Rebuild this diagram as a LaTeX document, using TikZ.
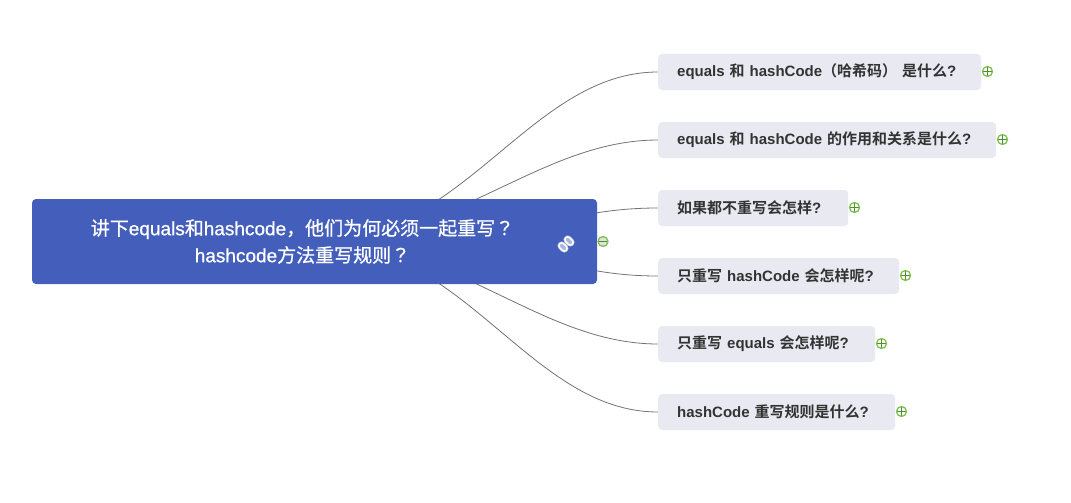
\documentclass[tikz,border=0pt]{standalone}
\usepackage{fontspec}
\setmainfont{Noto Sans CJK SC}[BoldFont={Noto Sans CJK SC Bold}]
\newfontfamily\latfont{Liberation Sans}
\newfontfamily\rootlatfont{Liberation Sans}[FakeBold=0.8]
\newfontfamily\rootcjk{Noto Sans CJK SC}[FakeBold=0.8]
\newfontfamily\rootmark{Noto Sans CJK TC}[FakeBold=0.8]
\newcommand{\lat}[1]{{\latfont #1}}
\newcommand{\rootlat}[1]{{\rootlatfont #1}}
\usetikzlibrary{backgrounds}
\definecolor{rootblue}{HTML}{445FBB}
\definecolor{topicgray}{HTML}{E9E9F2}
\definecolor{inkgray}{HTML}{333333}
\definecolor{foldgreen}{HTML}{7CC34E}
\tikzset{
    rootbox/.style={fill=rootblue, rounded corners=4pt, minimum height=85pt, text width=565pt, inner xsep=0pt, inner ysep=0pt, align=center, text=white, font=\fontsize{19}{23}\selectfont\rootcjk},
    topicbox/.style={fill=topicgray, rounded corners=4pt, anchor=west, minimum height=36pt, inner xsep=19pt, inner ysep=0pt, text=inkgray, font=\fontsize{15}{17}\selectfont\bfseries},
    branch/.style={draw=black!55, line width=0.8pt},
    foldopen/.style={circle, draw=foldgreen, fill=white, line width=1.3pt, minimum size=10pt, inner sep=0pt,
        path picture={\draw[black!30!foldgreen, line width=1pt] (path picture bounding box.west) -- (path picture bounding box.east) (path picture bounding box.north) -- (path picture bounding box.south);}},
    foldshut/.style={circle, draw=foldgreen, fill=black!12, line width=1.3pt, minimum size=10pt, inner sep=0pt,
        path picture={\draw[black!30!foldgreen, line width=1pt] (path picture bounding box.west) -- (path picture bounding box.east);}},
    linkring/.style={draw=white, line width=1.4pt, rounded corners=2.5pt, fill=rootblue!45!white, preaction={draw=rootblue!35!white, line width=2.8pt}}
}
\begin{document}
\begin{tikzpicture}[x=1pt, y=-1pt]
    \useasboundingbox (0,0) rectangle (1071,503);
    \node[rootbox] (root) at (314.5,241.5) {\vspace*{4pt}讲下\rootlat{equals}和\rootlat{hashcode}，他们为何必须一起重写{\rootmark ？}\rule{24pt}{0pt}\\\rootlat{hashcode}方法重写规则{\rootmark ？}\rule{24pt}{0pt}};
    \node[topicbox, text width=285pt] (what) at (658,72) {\lat{equals }和\lat{ hashCode}（哈希码）\lat{ }是什么\lat{?}};
    \node[topicbox, text width=300pt] (relation) at (658,140) {\lat{equals }和\lat{ hashCode }的作用和关系是什么\lat{?}};
    \node[topicbox, text width=152pt] (neither) at (658,208) {如果都不重写会怎样\lat{?}};
    \node[topicbox, text width=203pt] (onlyhash) at (658,276) {只重写\lat{ hashCode }会怎样呢\lat{?}};
    \node[topicbox, text width=179pt] (onlyequals) at (658,344) {只重写\lat{ equals }会怎样呢\lat{?}};
    \node[topicbox, text width=199pt] (rules) at (658,412) {\lat{hashCode }重写规则是什么\lat{?}};
    % curves start behind the root box
    \begin{scope}[on background layer]
        \draw[branch] (root.center) .. controls (465,241) and (530,72) .. (what.west);
        \draw[branch] (root.center) .. controls (455,241) and (540,140) .. (relation.west);
        \draw[branch] (root.center) .. controls (540,241) and (560,208) .. (neither.west);
        \draw[branch] (root.center) .. controls (540,241) and (560,276) .. (onlyhash.west);
        \draw[branch] (root.center) .. controls (455,241) and (540,344) .. (onlyequals.west);
        \draw[branch] (root.center) .. controls (465,241) and (530,412) .. (rules.west);
    \end{scope}
    \node[foldshut] (rootfold) at (603,241.5) {};
    \node[foldopen] (whatfold) at (987.5,71.5) {};
    \node[foldopen] (relationfold) at (1002.5,139.5) {};
    \node[foldopen] (neitherfold) at (854.5,207.5) {};
    \node[foldopen] (onlyhashfold) at (905.5,275.5) {};
    \node[foldopen] (onlyequalsfold) at (881.5,343.5) {};
    \node[foldopen] (rulesfold) at (901.5,411.5) {};
    % link icon
    \draw[linkring, rotate around={-45:(569,241)}] (564.5,238.3) rectangle (573.5,243.7);
    \draw[linkring, rotate around={-45:(563,247)}] (558.5,244.3) rectangle (567.5,249.7);
\end{tikzpicture}
\end{document}
